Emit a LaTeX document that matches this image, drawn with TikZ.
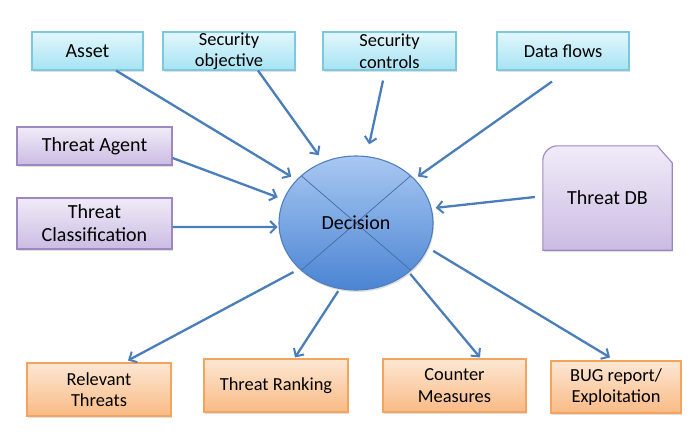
\documentclass[tikz,border=0pt]{standalone}
\usepackage{fontspec}
\setmainfont{Carlito}
\usetikzlibrary{arrows.meta,shadows,backgrounds,shapes.geometric}

\definecolor{cyantop}{HTML}{E2F7FC}
\definecolor{cyanbot}{HTML}{A6E3F3}
\definecolor{cyanline}{HTML}{7CC8DC}
\definecolor{violtop}{HTML}{F1EBF8}
\definecolor{violbot}{HTML}{CBBCE3}
\definecolor{violline}{HTML}{9D88C2}
\definecolor{orngtop}{HTML}{FDE7D3}
\definecolor{orngbot}{HTML}{F9BA85}
\definecolor{orngline}{HTML}{F3A45E}
\definecolor{dectop}{HTML}{A9C8F2}
\definecolor{decbot}{HTML}{4A84D3}
\definecolor{decline}{HTML}{4F7FBF}
\definecolor{arrline}{HTML}{4A7EBB}

\tikzset{
  box/.style={draw, line width=1.1pt, inner sep=0pt, align=center,
    drop shadow={opacity=0.25, shadow xshift=1pt, shadow yshift=-2pt}},
  inbox/.style={box, draw=cyanline, top color=cyantop, bottom color=cyanbot, minimum height=38pt},
  agbox/.style={box, draw=violline, top color=violtop, bottom color=violbot, minimum width=155pt},
  outbox/.style={box, draw=orngline, top color=orngtop, bottom color=orngbot, minimum height=53pt},
  big/.style={font=\fontsize{20}{23}\selectfont},
  small/.style={font=\fontsize{18.4}{21.5}\selectfont},
  flow/.style={draw=arrline, line width=2.3pt, -{Straight Barb[length=6pt,width=12pt,line width=2pt]}},
}

\begin{document}
\begin{tikzpicture}[x=1pt,y=-1pt]
  \useasboundingbox (0,0) rectangle (700,431);

  \node[inbox,big,minimum width=111pt] (asset) at (87.5,51) {Asset};
  \node[inbox,small,minimum width=132pt] (secobj) at (229,51) {Security\\objective};
  \node[inbox,small,minimum width=133pt] (secctl) at (389.5,51) {Security\\controls};
  \node[inbox,small,minimum width=132pt] (dflow) at (563,51) {Data flows};

  \node[agbox,big,minimum height=38pt] (tagent) at (94.5,146) {Threat Agent};
  \node[agbox,big,minimum height=51pt] (tclass) at (94.5,223.5) {Threat\\Classification};

  \node[big,minimum width=129pt,minimum height=104pt] (tdb) at (607.5,198) {Threat DB};
  \begin{scope}[on background layer]
    \draw[violline, line width=1.1pt, top color=violtop, bottom color=violbot,
      drop shadow={opacity=0.25, shadow xshift=1pt, shadow yshift=-2pt}]
      (tdb.south west) [rounded corners=15pt] -- (tdb.north west) [sharp corners]
      -- ([xshift=-15pt]tdb.north east) -- ([yshift=-17pt]tdb.north east)
      -- (tdb.south east) -- cycle;
  \end{scope}

  \node[ellipse, draw=decline, line width=1.1pt, top color=dectop, bottom color=decbot,
    minimum width=154pt, minimum height=134pt, inner sep=0pt, big,
    drop shadow={opacity=0.25, shadow xshift=1pt, shadow yshift=-2pt},
    path picture={
      \draw[decline!85!black, line width=0.7pt]
        ([shift={(-80pt,69pt)}]path picture bounding box.center) -- ([shift={(80pt,-69pt)}]path picture bounding box.center)
        ([shift={(80pt,69pt)}]path picture bounding box.center) -- ([shift={(-80pt,-69pt)}]path picture bounding box.center);
    }] (dec) at (356,223) {Decision};

  \node[outbox,small,minimum width=144pt] (relthr) at (99,389.5) {Relevant\\Threats};
  \node[outbox,small,minimum width=144pt] (trank) at (276,385.5) {Threat Ranking};
  \node[outbox,small,minimum width=143pt] (cmeas) at (454.5,385.5) {Counter\\Measures};
  \node[outbox,small,minimum width=130pt,minimum height=52pt] (bug) at (616,387) {BUG report/\\Exploitation};

  \draw[flow, shorten >=6pt] ([xshift=28.5pt]asset.south) -- (dec.144);
  \draw[flow, shorten >=8pt] ([xshift=29pt]secobj.south) -- (dec.118);
  \draw[flow, shorten >=12pt] ([xshift=-6.5pt,yshift=-10pt]secctl.south) -- (dec.81);
  \draw[flow, shorten >=4pt] ([xshift=-11pt,yshift=-11pt]dflow.south) -- (dec.37);
  \draw[flow, shorten >=6pt] ([yshift=-12pt]tagent.east) -- (dec.162);
  \draw[flow, shorten >=1pt] ([yshift=-3.5pt]tclass.east) -- (dec.183);
  \draw[flow, shorten >=4pt] ([xshift=-8pt,yshift=1pt]tdb.west) -- (dec.11);
  \draw[flow, shorten <=6.5pt] (dec.219) -- ([xshift=29pt,yshift=2pt]relthr.north);
  \draw[flow, shorten <=2.5pt] (dec.256) -- ([xshift=19pt,yshift=1pt]trank.north);
  \draw[flow, shorten <=2pt] (dec.317) -- ([xshift=25.5pt,yshift=1pt]cmeas.north);
  \draw[flow, shorten <=6pt] (dec.341) -- ([xshift=-6pt,yshift=3pt]bug.north);
\end{tikzpicture}
\end{document}
